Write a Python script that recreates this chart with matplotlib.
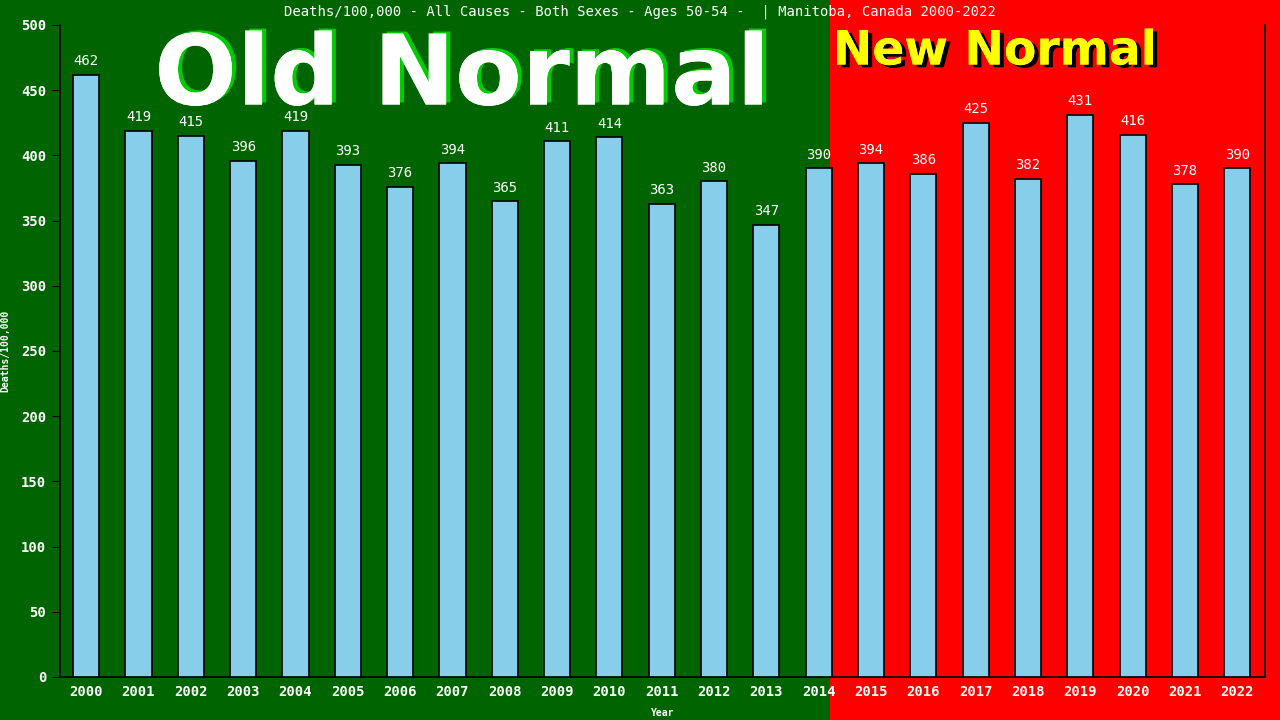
import matplotlib
matplotlib.use("Agg")
import matplotlib.pyplot as plt
import matplotlib.patheffects as pe
from matplotlib.patches import Rectangle

years = [str(y) for y in range(2000, 2023)]
deaths = [462, 419, 415, 396, 419, 393, 376, 394, 365, 411, 414, 363,
          380, 347, 390, 394, 386, 425, 382, 431, 416, 378, 390]
yticks = list(range(0, 501, 50))

title = "Deaths/100,000 - All Causes - Both Sexes - Ages 50-54 -  | Manitoba, Canada 2000-2022"
mono = "DejaVu Sans Mono"

fig = plt.figure(figsize=(12.8, 7.2), dpi=100)
fig.patch.set_facecolor("#006400")
# red "new normal" half behind everything
fig.patches.append(Rectangle((830 / 1280, 0), 1 - 830 / 1280, 1, transform=fig.transFigure,
                             facecolor="#ff0000", edgecolor="none", zorder=-10))

ax = fig.add_axes([60 / 1280, 43 / 720, 1205 / 1280, 652 / 720])
ax.set_facecolor("none")
ax.set_zorder(1)

x = list(range(len(years)))
ax.bar(x, deaths, width=0.5, color="#87ceeb", edgecolor="black", linewidth=1.2, zorder=3)
for xi, v in zip(x, deaths):
    ax.text(xi, v + 5, str(v), ha="center", va="bottom", color="white",
            fontsize=10, family=mono, zorder=4)

ax.set_xlim(-0.5, len(years) - 0.47)
ax.set_ylim(0, 500)
ax.set_xticks(x)
ax.set_xticklabels(years, family=mono, fontsize=10, color="white", fontweight="bold")
ax.set_yticks(yticks)
ax.set_yticklabels([str(t) for t in yticks], family=mono, fontsize=10, color="white", fontweight="bold")
ax.tick_params(axis="x", length=0, pad=6)
ax.tick_params(axis="y", length=6, color="black", pad=4)
ax.spines["top"].set_visible(False)
for s in ["left", "right", "bottom"]:
    ax.spines[s].set_color("black")
    ax.spines[s].set_linewidth(1.2)

ax.set_xlabel("Year", family=mono, fontsize=7, color="white", fontweight="bold", labelpad=6)
ax.set_ylabel("Deaths/100,000", family=mono, fontsize=7, color="white", fontweight="bold", labelpad=8)

fig.text(640 / 1280, 1 - 12 / 720, title, ha="center", va="center", color="white",
         family=mono, fontsize=10, zorder=5)

fig.text(462 / 1280, 1 - 78 / 720, "Old Normal", ha="center", va="center", color="white",
         fontsize=70, fontweight="bold", family="DejaVu Sans", zorder=5,
         path_effects=[pe.withSimplePatchShadow(offset=(3, 1.5), shadow_rgbFace="#00cc00", alpha=1),
                       pe.Normal()])
fig.text(995 / 1280, 1 - 52 / 720, "New Normal", ha="center", va="center", color="#ffff00",
         fontsize=34, fontweight="bold", family="DejaVu Sans", zorder=5,
         path_effects=[pe.withSimplePatchShadow(offset=(3, -2), shadow_rgbFace="black", alpha=1),
                       pe.Normal()])

fig.savefig("out.png", dpi=100, facecolor=fig.get_facecolor())
